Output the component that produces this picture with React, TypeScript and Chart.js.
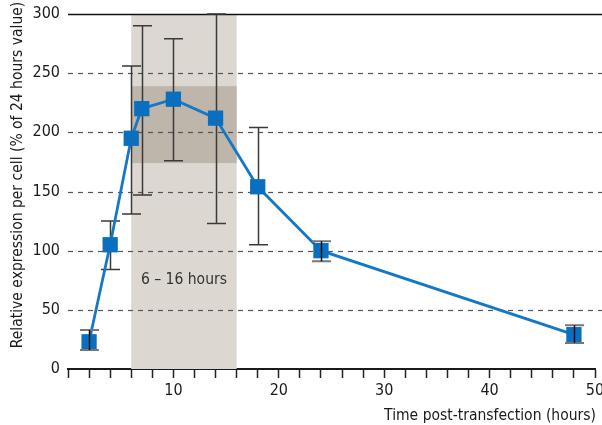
import React, { useEffect, useRef } from "react";
import { Chart, registerables } from "chart.js";

Chart.register(...registerables);

const times = [2, 4, 6, 7, 10, 14, 18, 24, 48];
const values = [23, 105, 195, 220, 228, 212, 154, 100, 29];
const errLow = [16, 84, 131, 147, 176, 123, 105, 91, 22];
const errHigh = [33, 125, 256, 290, 279, 300, 204, 108, 37];

const yTicks = [0, 50, 100, 150, 200, 250, 300];
const xLabelTicks = [10, 20, 30, 40, 50];

const band = { start: 6, end: 16, label: "6 – 16 hours", labelX: 11, labelY: 75 };
const innerBand = { low: 174, high: 239 };

const xTitle = "Time post-transfection (hours)";
const yTitle = "Relative expression per cell (% of 24 hours value)";

const FONT = "'DejaVu Sans Condensed', 'Liberation Sans Narrow', 'Roboto', sans-serif";

const zeroPad = () => ({ left: 0, top: 0, right: 0, bottom: 0 });

// error bars drawn over the marker when the spread is small
const isSmallErr = (i: number) => errHigh[i] - errLow[i] < 25;

const customPlugin = {
  id: "custom",
  beforeDatasetsDraw(chart: any) {
    const { ctx, chartArea, scales } = chart;
    const x = scales.x;
    const y = scales.y;
    ctx.save();
    const bx0 = x.getPixelForValue(band.start);
    const bx1 = x.getPixelForValue(band.end);
    const top = y.getPixelForValue(300);
    const bottom = y.getPixelForValue(0);
    ctx.fillStyle = "#dcd7d1";
    ctx.fillRect(bx0, top, bx1 - bx0, bottom - top);
    const iy0 = y.getPixelForValue(innerBand.high);
    const iy1 = y.getPixelForValue(innerBand.low);
    ctx.fillStyle = "#beb5ab";
    ctx.fillRect(bx0, iy0, bx1 - bx0, iy1 - iy0);

    yTicks.forEach((v) => {
      if (v === 0) return;
      const py = Math.round(y.getPixelForValue(v)) + 0.5;
      ctx.beginPath();
      if (v === 300) {
        ctx.setLineDash([]);
        ctx.strokeStyle = "#111";
        ctx.lineWidth = 1.5;
      } else {
        ctx.setLineDash([5, 5]);
        ctx.strokeStyle = "#555";
        ctx.lineWidth = 1.2;
      }
      ctx.moveTo(chartArea.left, py);
      ctx.lineTo(chart.width, py);
      ctx.stroke();
    });
    ctx.setLineDash([]);

    ctx.fillStyle = "#333";
    ctx.font = "15.5px " + FONT;
    ctx.textAlign = "center";
    ctx.textBaseline = "middle";
    ctx.fillText(band.label, x.getPixelForValue(band.labelX), y.getPixelForValue(band.labelY));

    ctx.strokeStyle = "#3a3a3a";
    ctx.lineWidth = 1.5;
    times.forEach((t, i) => {
      if (isSmallErr(i)) return;
      const px = Math.round(x.getPixelForValue(t)) + 0.5;
      const lo = y.getPixelForValue(errLow[i]);
      const hi = y.getPixelForValue(errHigh[i]);
      ctx.beginPath();
      ctx.moveTo(px, lo);
      ctx.lineTo(px, hi);
      ctx.moveTo(px - 9.5, lo);
      ctx.lineTo(px + 9.5, lo);
      ctx.moveTo(px - 9.5, hi);
      ctx.lineTo(px + 9.5, hi);
      ctx.stroke();
    });

    ctx.restore();
  },
  afterDatasetsDraw(chart: any) {
    const { ctx, scales } = chart;
    const x = scales.x;
    const y = scales.y;
    ctx.save();
    times.forEach((t, i) => {
      if (!isSmallErr(i)) return;
      const px = Math.round(x.getPixelForValue(t)) + 0.5;
      const lo = y.getPixelForValue(errLow[i]);
      const hi = y.getPixelForValue(errHigh[i]);
      ctx.strokeStyle = "#777";
      ctx.lineWidth = 2;
      ctx.beginPath();
      ctx.moveTo(px - 9.5, lo);
      ctx.lineTo(px + 9.5, lo);
      ctx.moveTo(px - 9.5, hi);
      ctx.lineTo(px + 9.5, hi);
      ctx.stroke();
      ctx.strokeStyle = "#111";
      ctx.lineWidth = 1.5;
      ctx.beginPath();
      ctx.moveTo(px, lo);
      ctx.lineTo(px, hi);
      ctx.stroke();
    });
    ctx.restore();
  },
  afterDraw(chart: any) {
    const { ctx, chartArea } = chart;
    ctx.save();
    ctx.fillStyle = "#1a1a1a";
    ctx.font = "15.5px " + FONT;
    ctx.textBaseline = "middle";
    ctx.textAlign = "right";
    ctx.fillText(xTitle, chartArea.right + 1, 416);
    ctx.translate(18, 175);
    ctx.rotate(-Math.PI / 2);
    ctx.textAlign = "center";
    ctx.fillText(yTitle, 0, 0);
    ctx.restore();
  },
};

export default function App() {
  const ref = useRef<HTMLCanvasElement | null>(null);
  useEffect(() => {
    document.body.style.margin = "0";
    const canvas = ref.current!;
    const chart = new Chart(canvas, {
      type: "line",
      data: {
        datasets: [
          {
            data: times.map((t, i) => ({ x: t, y: values[i] })),
            borderColor: "#1678c4",
            borderWidth: 2.8,
            backgroundColor: "#0a6fbe",
            pointStyle: "rect",
            pointRadius: 10.8,
            pointBorderWidth: 0,
            pointHoverRadius: 10.8,
            tension: 0,
          },
        ],
      },
      options: {
        animation: false,
        responsive: false,
        devicePixelRatio: 1,
        layout: { autoPadding: false, padding: { left: 0, right: 7, top: 14, bottom: 0 } },
        plugins: { legend: { display: false }, tooltip: { enabled: false } },
        scales: {
          x: {
            type: "linear",
            min: 0,
            max: 50,
            afterFit(scale: any) {
              scale.height = 56;
              scale.paddingRight = 0;
              scale.paddingLeft = 0;
              scale.getPadding = zeroPad;
            },
            afterBuildTicks(scale: any) {
              const arr = [];
              for (let v = 0; v <= 50; v += 2) arr.push({ value: v });
              scale.ticks = arr;
            },
            ticks: {
              autoSkip: false,
              maxRotation: 0,
              padding: 3,
              color: "#1a1a1a",
              font: { size: 16, family: FONT },
              callback: (v: any) => (xLabelTicks.includes(Number(v)) ? String(v) : ""),
            },
            grid: {
              drawOnChartArea: false,
              drawTicks: true,
              tickLength: 9,
              tickColor: "#222",
              tickWidth: 1.5,
            },
            border: { display: true, color: "#1a1a1a", width: 2 },
          },
          y: {
            type: "linear",
            min: 0,
            max: 300,
            afterFit(scale: any) {
              scale.width = 68;
              scale.paddingTop = 0;
              scale.paddingBottom = 0;
              scale.getPadding = zeroPad;
            },
            afterBuildTicks(scale: any) {
              scale.ticks = yTicks.map((v) => ({ value: v }));
            },
            ticks: {
              padding: 8,
              color: "#1a1a1a",
              font: { size: 16, family: FONT },
            },
            grid: { display: false, drawTicks: false },
            border: { display: false },
          },
        },
      },
      plugins: [customPlugin],
    });
    return () => chart.destroy();
  }, []);
  return (
    <canvas
      ref={ref}
      width={602}
      height={425}
      style={{ position: "absolute", left: 0, top: 0, width: 602, height: 425 }}
    />
  );
}
